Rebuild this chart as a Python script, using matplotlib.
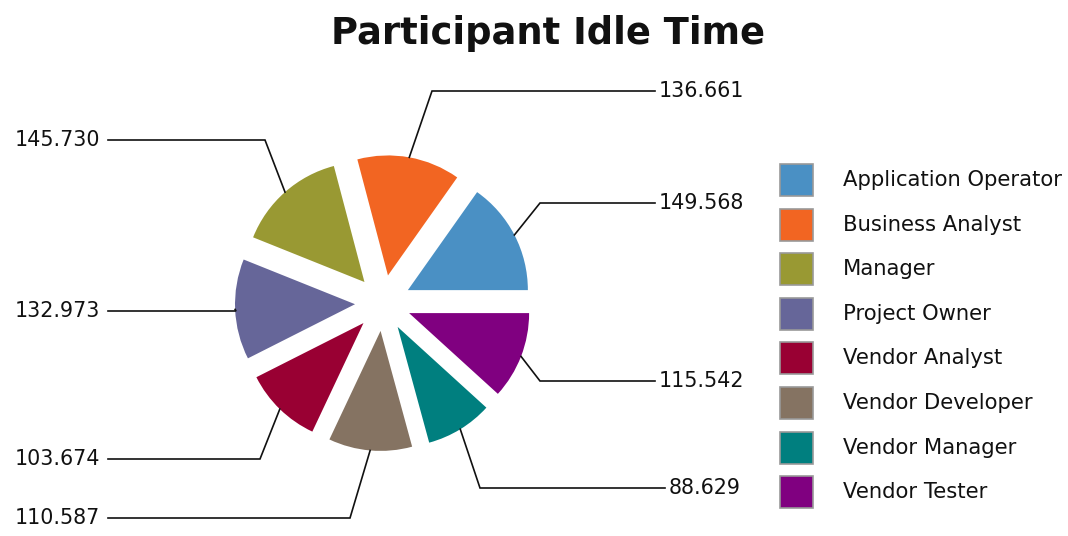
import matplotlib.pyplot as plt
import matplotlib.patches as mpatches
import numpy as np

categories = ["Application Operator", "Business Analyst", "Manager", "Project Owner",
              "Vendor Analyst", "Vendor Developer", "Vendor Manager", "Vendor Tester"]
idle_time = [149.568, 136.661, 145.730, 132.973, 103.674, 110.587, 88.629, 115.542]
colors = ["#4a90c4", "#f26522", "#999933", "#666699",
          "#990033", "#857362", "#007f7f", "#800080"]

# label layout (image pixel coords): elbow x, elbow y, label side
label_layout = [(540, 203, 'r'), (432, 91, 'r'), (265, 140, 'l'), (236, 311, 'l'),
                (260, 459, 'l'), (350, 518, 'l'), (480, 488, 'r'), (540, 381, 'r')]

W, H = 1068, 536
Y = lambda y: H - y

plt.rcParams['font.family'] = ['DejaVu Sans']

fig = plt.figure(figsize=(W / 100, H / 100), dpi=100)
ax = fig.add_axes([0, 0, 1, 1])

wedges, _ = ax.pie(idle_time, colors=colors, startangle=0, counterclock=True,
                   explode=[28] * len(idle_time), radius=120, center=(383, Y(303)),
                   wedgeprops=dict(linewidth=0))

ax.set_xlim(0, W)
ax.set_ylim(0, H)
ax.set_aspect('auto')
ax.axis('off')

for w, val, (ex, ey, side) in zip(wedges, idle_time, label_layout):
    bis = np.deg2rad((w.theta1 + w.theta2) / 2)
    cx, cy = w.center
    sx, sy = cx + w.r * np.cos(bis), cy + w.r * np.sin(bis)
    if side == 'r':
        end_x = 665 if val < 100 else 655
        tx, ha = end_x + 4, 'left'
    else:
        end_x = 108
        tx, ha = 100, 'right'
    ax.plot([sx, ex, end_x], [sy, Y(ey), Y(ey)], color='#111111', lw=1.2,
            solid_joinstyle='miter')
    ax.text(tx, Y(ey), "%.3f" % val, ha=ha, va='center', fontsize=14.9, color='#111111')

ax.text(548, Y(34), "Participant Idle Time", ha='center', va='center',
        fontsize=26.6, fontweight='bold', color='#111111')

# legend
for i, (cat, col) in enumerate(zip(categories, colors)):
    yc = 180 + i * 44.6
    ax.add_patch(mpatches.Rectangle((780, Y(yc + 16)), 33, 32, facecolor=col,
                                    edgecolor='#999999', lw=1.2))
    ax.text(843, Y(yc), cat, ha='left', va='center', fontsize=15.2, color='#111111')

plt.savefig("out.png", dpi=100, facecolor='white')
plt.close()
